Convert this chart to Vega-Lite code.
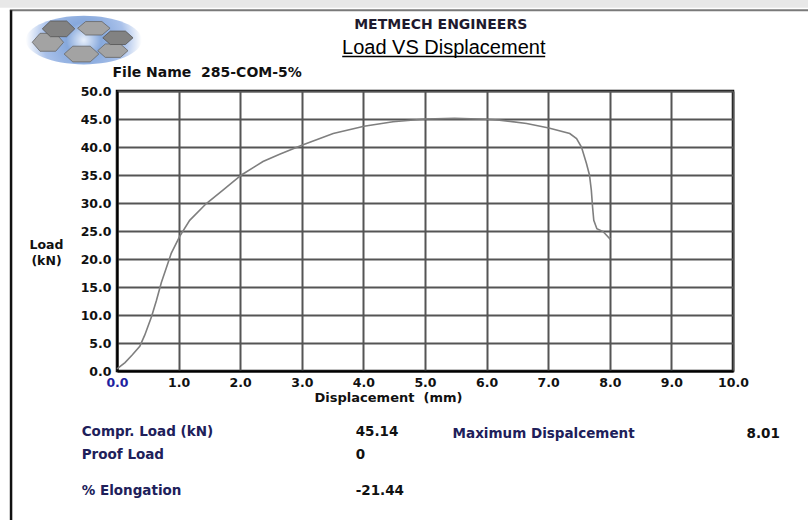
{
  "$schema": "https://vega.github.io/schema/vega-lite/v6.json",
  "autosize": {"type": "none"},
  "padding": {"left": 117, "top": 91, "right": 75, "bottom": 149},
  "width": 616,
  "height": 280,
  "background": "#ffffff",
  "config": {
    "font": "DejaVu Sans",
    "view": {"stroke": "#000000", "strokeWidth": 2.5}
  },
  "resolve": {"axis": {"x": "independent", "y": "independent"}},
  "layer": [
    {
      "data": {
        "values": [
          {"disp": 0.0, "load": 0.4},
          {"disp": 0.13, "load": 1.5},
          {"disp": 0.25, "load": 2.9},
          {"disp": 0.37, "load": 4.4},
          {"disp": 0.45, "load": 6.4},
          {"disp": 0.56, "load": 9.7},
          {"disp": 0.64, "load": 12.6},
          {"disp": 0.72, "load": 15.8},
          {"disp": 0.8, "load": 18.4},
          {"disp": 0.88, "load": 21.0},
          {"disp": 1.02, "load": 24.1},
          {"disp": 1.18, "load": 26.9},
          {"disp": 1.45, "load": 29.9},
          {"disp": 1.72, "load": 32.3},
          {"disp": 2.02, "load": 35.0},
          {"disp": 2.37, "load": 37.4},
          {"disp": 2.64, "load": 38.7},
          {"disp": 3.0, "load": 40.3},
          {"disp": 3.51, "load": 42.4},
          {"disp": 4.01, "load": 43.7},
          {"disp": 4.48, "load": 44.5},
          {"disp": 5.01, "load": 45.0},
          {"disp": 5.48, "load": 45.14},
          {"disp": 6.0, "load": 44.95},
          {"disp": 6.21, "load": 44.8},
          {"disp": 6.65, "load": 44.2},
          {"disp": 7.01, "load": 43.4},
          {"disp": 7.35, "load": 42.4},
          {"disp": 7.46, "load": 41.5},
          {"disp": 7.54, "load": 40.0},
          {"disp": 7.62, "load": 37.1},
          {"disp": 7.67, "load": 35.0},
          {"disp": 7.7, "load": 32.3},
          {"disp": 7.72, "load": 29.3},
          {"disp": 7.74, "load": 26.9},
          {"disp": 7.79, "load": 25.4},
          {"disp": 7.89, "load": 24.9},
          {"disp": 8.01, "load": 23.5}
        ]
      },
      "mark": {"type": "line", "color": "#7f7f7f", "strokeWidth": 1.6},
      "encoding": {
        "x": {
          "field": "disp",
          "type": "quantitative",
          "scale": {"domain": [0, 10], "nice": false, "zero": false},
          "axis": {
            "values": [0, 1, 2, 3, 4, 5, 6, 7, 8, 9, 10],
            "format": ".1f",
            "labelFont": "DejaVu Sans",
            "labelFontWeight": "bold",
            "labelFontSize": 12.5,
            "labelColor": {"condition": {"test": "datum.value === 0", "value": "#1f1fa0"}, "value": "#111111"},
            "labelPadding": 5,
            "labelFlush": false,
            "labelOverlap": false,
            "ticks": false,
            "domainColor": "#000000",
            "domainWidth": 2,
            "grid": true,
            "gridColor": "#555555",
            "gridWidth": 2,
            "gridOpacity": 1,
            "title": "Displacement\u00a0\u00a0(mm)",
            "titleFont": "DejaVu Sans",
            "titleFontSize": 13,
            "titleFontWeight": "bold",
            "titleColor": "#111111",
            "titleX": 271,
            "titleY": 26,
            "titleAlign": "center",
            "titleBaseline": "middle"
          }
        },
        "y": {
          "field": "load",
          "type": "quantitative",
          "scale": {"domain": [0, 50], "nice": false},
          "axis": {
            "values": [0, 5, 10, 15, 20, 25, 30, 35, 40, 45, 50],
            "format": ".1f",
            "labelFont": "DejaVu Sans",
            "labelFontWeight": "bold",
            "labelFontSize": 12.5,
            "labelColor": "#111111",
            "labelPadding": 6,
            "labelOverlap": false,
            "ticks": false,
            "domainColor": "#000000",
            "domainWidth": 2,
            "grid": true,
            "gridColor": "#555555",
            "gridWidth": 2,
            "gridOpacity": 1,
            "title": ["Load", "(kN)"],
            "titleFont": "DejaVu Sans",
            "titleFontSize": 12.5,
            "titleFontWeight": "bold",
            "titleColor": "#111111",
            "titleAngle": 0,
            "titleX": -71,
            "titleY": 153,
            "titleAlign": "center",
            "titleBaseline": "middle",
            "titleLineHeight": 16
          }
        }
      }
    },
    {
      "data": {"values": [{}]},
      "mark": {"type": "rect", "color": "#e8e8e8"},
      "encoding": {"x": {"datum": -1.91, "axis": null}, "x2": {"datum": 11.22}, "y": {"datum": 66.3, "axis": null}, "y2": {"datum": 64.85}}
    },
    {
      "data": {"values": [{}]},
      "mark": {"type": "rule", "color": "#7a7a7a", "strokeWidth": 2},
      "encoding": {"x": {"datum": -1.74, "axis": null}, "x2": {"datum": 11.22}, "y": {"datum": 64.4, "axis": null}}
    },
    {
      "data": {"values": [{}]},
      "mark": {"type": "rule", "color": "#111111", "strokeWidth": 2.5},
      "encoding": {"x": {"datum": -1.72, "axis": null}, "y": {"datum": 64.4, "axis": null}, "y2": {"datum": -26.7}}
    },
    {
      "data": {"values": [{}]},
      "mark": {
        "type": "point",
        "filled": true,
        "opacity": 1,
        "strokeWidth": 0,
        "shape": "M-1,0 A1,0.42 0 1,1 1,0 A1,0.42 0 1,1 -1,0 Z",
        "size": 13456,
        "fill": {"gradient": "radial", "stops": [{"offset": 0, "color": "#e8f0fb"}, {"offset": 0.3, "color": "#86a8dc"}, {"offset": 0.7, "color": "#a9c1ea"}, {"offset": 1, "color": "#ffffff"}]}
      },
      "encoding": {"x": {"datum": -0.54, "axis": null}, "y": {"datum": 59.1, "axis": null}}
    },
    {
      "data": {"values": [{}]},
      "mark": {
        "type": "point",
        "filled": true,
        "opacity": 1,
        "fill": "#a3a3a3",
        "stroke": "#666666",
        "strokeWidth": 0.8,
        "shape": "M-0.11,-0.21 L0.035,-0.33 L0.325,-0.33 L0.47,-0.21 L0.325,-0.09 L0.035,-0.09 Z M0.25,0.19 L0.385,0.07 L0.655,0.07 L0.79,0.19 L0.655,0.31 L0.385,0.31 Z M-0.35,0.25 L-0.195,0.11 L0.115,0.11 L0.27,0.25 L0.115,0.39 L-0.195,0.39 Z M-0.92,0.04 L-0.78,-0.12 L-0.5,-0.12 L-0.36,0.04 L-0.5,0.2 L-0.78,0.2 Z",
        "size": 12544
      },
      "encoding": {"x": {"datum": -0.54, "axis": null}, "y": {"datum": 59.1, "axis": null}}
    },
    {
      "data": {"values": [{}]},
      "mark": {
        "type": "point",
        "filled": true,
        "opacity": 1,
        "fill": "#828282",
        "stroke": "#555555",
        "strokeWidth": 0.8,
        "shape": "M-0.74,-0.2 L-0.595,-0.34 L-0.305,-0.34 L-0.16,-0.2 L-0.305,-0.06 L-0.595,-0.06 Z M0.34,-0.04 L0.475,-0.16 L0.745,-0.16 L0.88,-0.04 L0.745,0.08 L0.475,0.08 Z",
        "size": 12544
      },
      "encoding": {"x": {"datum": -0.54, "axis": null}, "y": {"datum": 59.1, "axis": null}}
    },
    {
      "data": {"values": [{}]},
      "mark": {"type": "text", "text": "METMECH ENGINEERS", "align": "center", "baseline": "middle", "font": "DejaVu Sans", "fontWeight": "bold", "fontSize": 14, "color": "#1e1a2e"},
      "encoding": {"x": {"datum": 5.255, "axis": null}, "y": {"datum": 61.8, "axis": null}}
    },
    {
      "data": {"values": [{}]},
      "mark": {"type": "text", "text": "Load VS Displacement", "align": "center", "baseline": "middle", "font": "Liberation Sans", "fontSize": 20, "color": "#000000"},
      "encoding": {"x": {"datum": 5.304, "axis": null}, "y": {"datum": 57.7, "axis": null}}
    },
    {
      "data": {"values": [{}]},
      "mark": {"type": "rule", "color": "#000000", "strokeWidth": 1.5},
      "encoding": {"x": {"datum": 3.656, "axis": null}, "x2": {"datum": 6.951}, "y": {"datum": 56.15, "axis": null}}
    },
    {
      "data": {"values": [{}]},
      "mark": {"type": "text", "text": "File Name\u00a0\u00a0285-COM-5%", "align": "center", "baseline": "middle", "font": "DejaVu Sans", "fontWeight": "bold", "fontSize": 14, "color": "#111111"},
      "encoding": {"x": {"datum": 1.464, "axis": null}, "y": {"datum": 53.2, "axis": null}}
    },
    {
      "data": {"values": [{}]},
      "mark": {"type": "text", "text": "Compr. Load (kN)", "align": "left", "baseline": "middle", "font": "DejaVu Sans", "fontWeight": "bold", "fontSize": 13.5, "color": "#20205a"},
      "encoding": {"x": {"datum": -0.573, "axis": null}, "y": {"datum": -10.96, "axis": null}}
    },
    {
      "data": {"values": [{}]},
      "mark": {"type": "text", "text": "45.14", "align": "left", "baseline": "middle", "font": "DejaVu Sans", "fontWeight": "bold", "fontSize": 13.5, "color": "#111111"},
      "encoding": {"x": {"datum": 3.875, "axis": null}, "y": {"datum": -10.96, "axis": null}}
    },
    {
      "data": {"values": [{}]},
      "mark": {"type": "text", "text": "Maximum Dispalcement", "align": "left", "baseline": "middle", "font": "DejaVu Sans", "fontWeight": "bold", "fontSize": 13.5, "color": "#20205a"},
      "encoding": {"x": {"datum": 5.448, "axis": null}, "y": {"datum": -11.3, "axis": null}}
    },
    {
      "data": {"values": [{}]},
      "mark": {"type": "text", "text": "8.01", "align": "left", "baseline": "middle", "font": "DejaVu Sans", "fontWeight": "bold", "fontSize": 13.5, "color": "#111111"},
      "encoding": {"x": {"datum": 10.22, "axis": null}, "y": {"datum": -11.3, "axis": null}}
    },
    {
      "data": {"values": [{}]},
      "mark": {"type": "text", "text": "Proof Load", "align": "left", "baseline": "middle", "font": "DejaVu Sans", "fontWeight": "bold", "fontSize": 13.5, "color": "#20205a"},
      "encoding": {"x": {"datum": -0.573, "axis": null}, "y": {"datum": -15.07, "axis": null}}
    },
    {
      "data": {"values": [{}]},
      "mark": {"type": "text", "text": "0", "align": "left", "baseline": "middle", "font": "DejaVu Sans", "fontWeight": "bold", "fontSize": 13.5, "color": "#111111"},
      "encoding": {"x": {"datum": 3.875, "axis": null}, "y": {"datum": -15.07, "axis": null}}
    },
    {
      "data": {"values": [{}]},
      "mark": {"type": "text", "text": "% Elongation", "align": "left", "baseline": "middle", "font": "DejaVu Sans", "fontWeight": "bold", "fontSize": 13.5, "color": "#20205a"},
      "encoding": {"x": {"datum": -0.573, "axis": null}, "y": {"datum": -21.5, "axis": null}}
    },
    {
      "data": {"values": [{}]},
      "mark": {"type": "text", "text": "-21.44", "align": "left", "baseline": "middle", "font": "DejaVu Sans", "fontWeight": "bold", "fontSize": 13.5, "color": "#111111"},
      "encoding": {"x": {"datum": 3.875, "axis": null}, "y": {"datum": -21.5, "axis": null}}
    }
  ]
}
